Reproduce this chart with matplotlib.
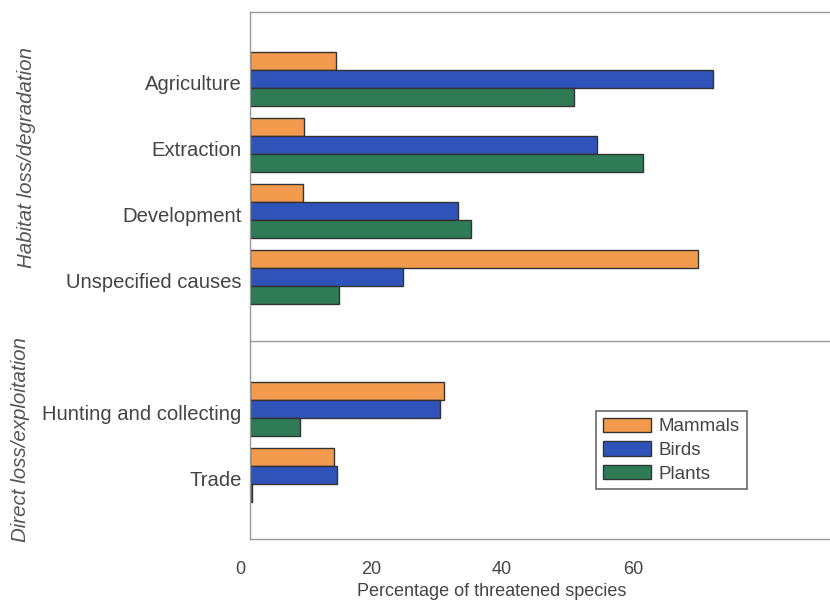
import numpy as np
import matplotlib
matplotlib.use("Agg")
import matplotlib.pyplot as plt
import matplotlib.transforms as mtransforms

plt.rcParams['font.family'] = ['Liberation Sans', 'DejaVu Sans']

# data (percent of threatened species)
causes = ["Agriculture", "Extraction", "Development", "Unspecified causes",
          "Hunting and collecting", "Trade"]
groups = ["Habitat loss/degradation", "Direct loss/exploitation"]
group_of = [0, 0, 0, 0, 1, 1]
mammals = [13.1, 8.2, 8.1, 68.4, 29.6, 12.8]
birds = [70.7, 52.9, 31.7, 23.3, 29.0, 13.3]
plants = [49.5, 59.9, 33.7, 13.6, 7.6, 0.3]
series = ["Mammals", "Birds", "Plants"]
colors = ["#F29B4E", "#2F53B9", "#2E7B55"]
xticks = [0, 20, 40, 60]

# one empty slot between the two groups
pos = np.array([i + g for i, g in enumerate(group_of)], dtype=float)
h = 0.273

fig = plt.figure(figsize=(8.30, 6.01), dpi=100)
ax = fig.add_axes([250 / 830, 1 - 539 / 601, 580 / 830, 527 / 601])

for k, (vals, name, c) in enumerate(zip([mammals, birds, plants], series, colors)):
    ax.barh(pos + (k - 1) * h - 0.045, vals, height=h, color=c,
            edgecolor="#333333", linewidth=1.0, label=name)

ax.set_ylim(6.92, -1.06)
ax.set_xlim(0, 88.5)
ax.set_yticks(pos)
ax.set_yticklabels(causes, fontsize=14.6, color="#444444")
ax.tick_params(axis="y", length=0, pad=6)
ax.set_xticks(xticks)
ax.set_xticklabels([str(t) for t in xticks], fontsize=13, color="#444444")
ax.tick_params(axis="x", length=0, pad=16)
shift = mtransforms.ScaledTranslation(-10 / 100, 0, fig.dpi_scale_trans)
for lab in ax.get_xticklabels():
    lab.set_transform(lab.get_transform() + shift)
ax.set_xlabel("Percentage of threatened species", fontsize=13, color="#444444",
              labelpad=2)
ax.xaxis.set_label_coords((492 - 250) / 580, -0.083)

for s in ax.spines.values():
    s.set_color("#9a9a9a")
    s.set_linewidth(1.0)
ax.spines["right"].set_visible(False)

# line between the two groups
sep = (pos[3] + pos[4]) / 2 - 0.08
ax.axhline(sep, color="#9a9a9a", linewidth=1.0)

# group titles, vertical italic
fig.text(26 / 830, 1 - 158 / 601, groups[0], rotation=90, style="italic",
         fontsize=14.8, color="#555555", ha="center", va="center")
fig.text(21 / 830, 1 - 440 / 601, groups[1], rotation=90, style="italic",
         fontsize=14.8, color="#555555", ha="center", va="center")

leg = ax.legend(loc="upper left",
                bbox_to_anchor=((596 - 250) / 580, (539 - 411) / 527),
                fontsize=13.5, frameon=True, fancybox=False, handlelength=2.6,
                handleheight=0.8, handletextpad=0.4, labelspacing=0.32,
                borderpad=0.35, borderaxespad=0)
leg.get_frame().set_edgecolor("#444444")
leg.get_frame().set_linewidth(1.2)
for t in leg.get_texts():
    t.set_color("#444444")

fig.savefig("out.png", dpi=100)
